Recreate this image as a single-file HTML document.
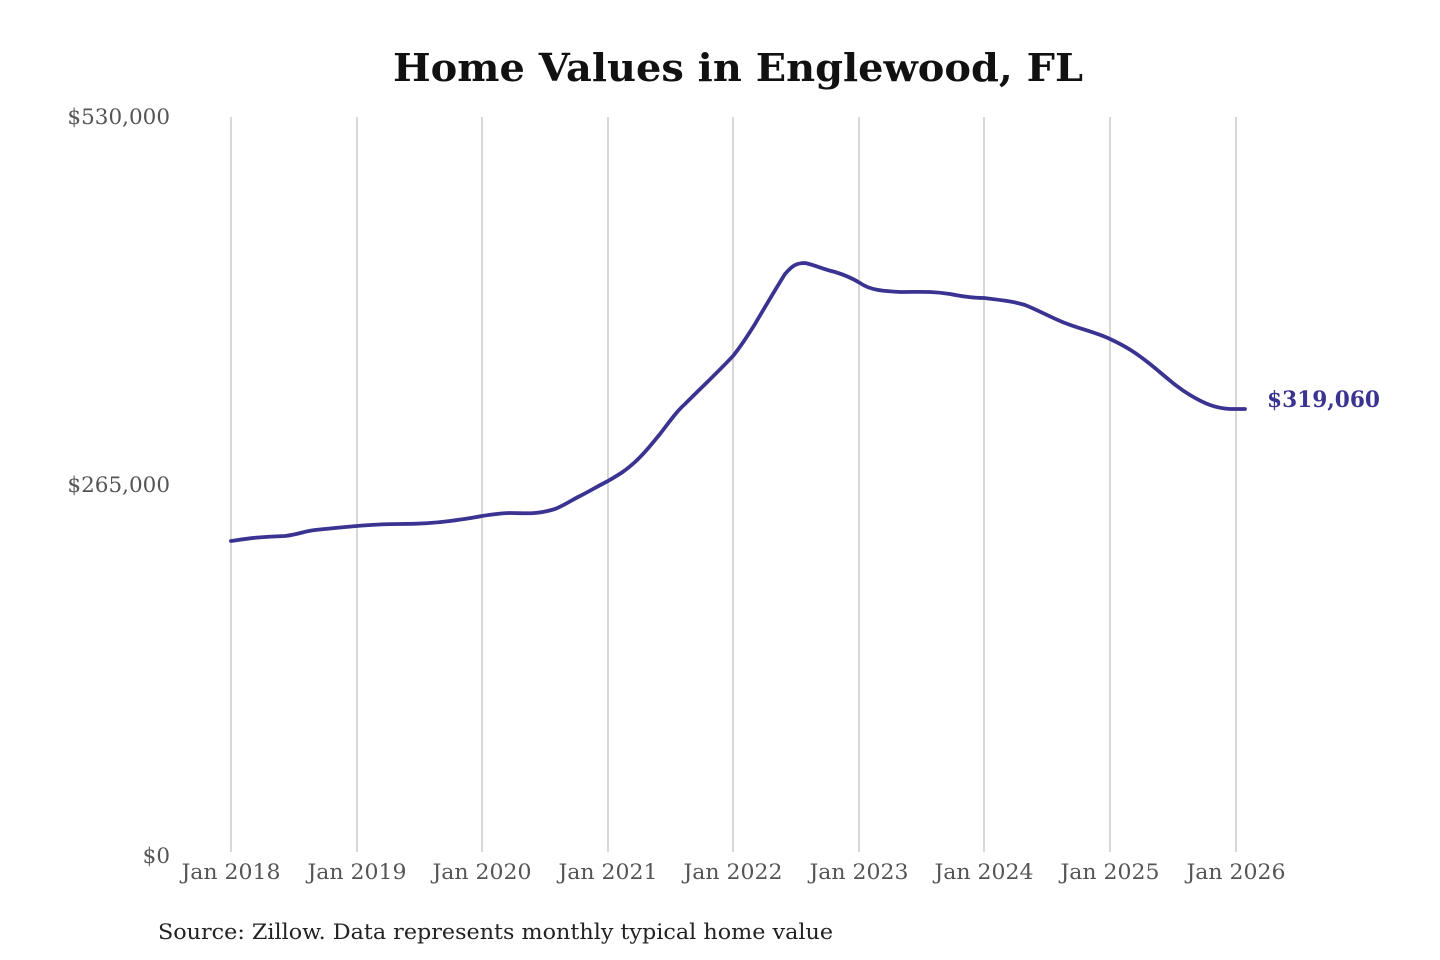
<!DOCTYPE html>
<html><head><meta charset="utf-8"><style>
html,body{margin:0;padding:0;background:#fff;}
svg{display:block;}
</style></head><body>
<svg width="1440" height="960" viewBox="0 0 1440 960" xmlns="http://www.w3.org/2000/svg" font-family="'DejaVu Serif','Liberation Serif',serif">
<rect width="1440" height="960" fill="#fff"/>
<text x="393" y="81" font-size="38" font-weight="bold" fill="#111" textLength="690" lengthAdjust="spacingAndGlyphs">Home Values in Englewood, FL</text>
<g stroke="#c4c4c4" stroke-width="1.3">
<line x1="231" y1="117" x2="231" y2="852"/>
<line x1="357" y1="117" x2="357" y2="852"/>
<line x1="482" y1="117" x2="482" y2="852"/>
<line x1="608" y1="117" x2="608" y2="852"/>
<line x1="733" y1="117" x2="733" y2="852"/>
<line x1="859" y1="117" x2="859" y2="852"/>
<line x1="984" y1="117" x2="984" y2="852"/>
<line x1="1110" y1="117" x2="1110" y2="852"/>
<line x1="1236" y1="117" x2="1236" y2="852"/>
</g>
<g font-size="21.5" fill="#555" text-anchor="end">
<text x="170" y="124">$530,000</text>
<text x="170" y="492">$265,000</text>
<text x="170" y="863">$0</text>
</g>
<g font-size="21.5" fill="#555" text-anchor="middle">
<text x="231" y="879" textLength="99" lengthAdjust="spacingAndGlyphs">Jan 2018</text>
<text x="357" y="879" textLength="99" lengthAdjust="spacingAndGlyphs">Jan 2019</text>
<text x="482" y="879" textLength="99" lengthAdjust="spacingAndGlyphs">Jan 2020</text>
<text x="608" y="879" textLength="99" lengthAdjust="spacingAndGlyphs">Jan 2021</text>
<text x="733" y="879" textLength="99" lengthAdjust="spacingAndGlyphs">Jan 2022</text>
<text x="859" y="879" textLength="99" lengthAdjust="spacingAndGlyphs">Jan 2023</text>
<text x="984" y="879" textLength="99" lengthAdjust="spacingAndGlyphs">Jan 2024</text>
<text x="1110" y="879" textLength="99" lengthAdjust="spacingAndGlyphs">Jan 2025</text>
<text x="1236" y="879" textLength="99" lengthAdjust="spacingAndGlyphs">Jan 2026</text>
</g>
<path fill="none" stroke="#3a3391" stroke-width="3.8" stroke-linejoin="round" stroke-linecap="round"
d="M231,541 C245,539 255,537 285,536 C300,534 305,531 315,530 C335,528 345,527 357,526 C370,525 378,524 400,524 C420,524 435,523 450,521 C465,519 472,518 482,516 C495,514 502,513 510,513 C525,513 535,515 555,509 C565,505 570,501 580,496 C590,491 598,486 608,481 C620,474 625,471 635,462 C645,453 650,446 660,434 C670,421 677,411 685,404 C700,389 718,372 733,356 C742,345 748,335 755,324 C765,307 775,290 785,274 C792,266 796,263 805,263 C815,265 822,269 835,272 C845,275 852,278 860,283 C870,290 882,291 900,292 C920,292 930,291 950,294 C965,297 975,298 984,298 C1000,300 1012,301 1025,305 C1040,311 1052,318 1065,323 C1080,329 1095,332 1110,339 C1125,346 1135,352 1150,364 C1165,376 1175,386 1190,395 C1205,404 1215,408 1230,409 L1245,409"/>
<text x="1267" y="407" font-size="22" font-weight="bold" fill="#3a3391" textLength="113" lengthAdjust="spacingAndGlyphs">$319,060</text>
<text x="158" y="939" font-size="21.5" fill="#222" textLength="675" lengthAdjust="spacingAndGlyphs">Source: Zillow. Data represents monthly typical home value</text>
</svg>
</body></html>
